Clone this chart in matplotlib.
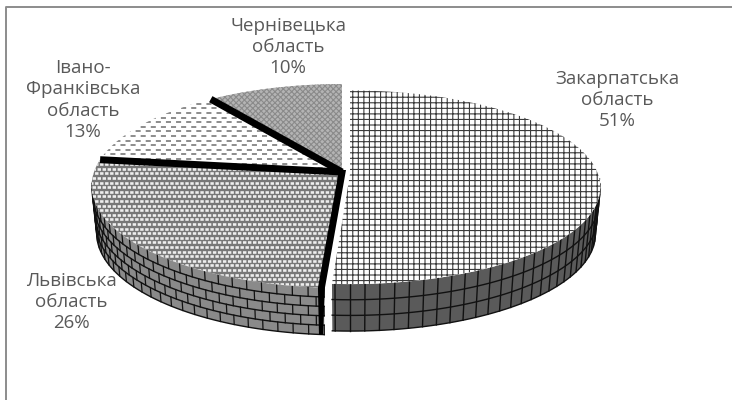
import numpy as np
import matplotlib
matplotlib.use("Agg")
import matplotlib.pyplot as plt
from matplotlib.patches import Polygon

plt.rcParams["font.family"] = ["Open Sans", "DejaVu Sans"]
plt.rcParams["hatch.linewidth"] = 0.8

names = ["Закарпатська\nобласть", "Львівська\nобласть", "Івано-\nФранківська\nобласть", "Чернівецька\nобласть"]
shares = [51, 26, 13, 10]
label_xy = [(617, 100), (71, 302), (83, 100), (288, 47)]

W, H = 732, 400
KEEP = 0.137  # perspective strength
DEPTH = 47
fig = plt.figure(figsize=(W / 100, H / 100), dpi=100)
ax = fig.add_axes([0, 0, 1, 1])
ax.set_xlim(0, W)
ax.set_ylim(H, 0)
ax.axis("off")


def proj(t, apex, rx, ry, dy=0.0):
    # angle t clockwise from 12 o'clock, returns picture coords
    xx = np.sin(t)
    yy = np.cos(t)
    s = 1 / (1 + KEEP * yy)
    return apex[0] + rx * xx * s, apex[1] - ry * yy * s + dy


def wall(t0, t1, apex, rx, ry, rows, step, brick, fc):
    t = np.linspace(t0, t1, 120)
    xt, yt = proj(t, apex, rx, ry)
    xb, yb = proj(t, apex, rx * 0.98, ry, DEPTH)
    pts = np.r_[np.c_[xt, yt], np.c_[xb, yb][::-1]]
    ax.add_patch(Polygon(pts, closed=True, fc=fc, ec="none", zorder=1))
    for i in range(1, rows + 1):
        f = i / rows
        ax.plot(xt + (xb - xt) * f, yt + (yb - yt) * f, color="#111111", lw=1.0, zorder=2)
    n = int((t1 - t0) / step)
    for k in range(n + 1):
        if brick:
            for i in range(rows):
                tk = t0 + (k + 0.5 * (i % 2)) * step
                if t0 <= tk <= t1:
                    x0, y0 = proj(tk, apex, rx - 5 * i / rows, ry, DEPTH * i / rows)
                    x1, y1 = proj(tk, apex, rx - 5 * (i + 1) / rows, ry, DEPTH * (i + 1) / rows)
                    ax.plot([x0, x1], [y0, y1], color="#111111", lw=0.9, zorder=2)
        else:
            tk = t0 + k * step
            x0, y0 = proj(tk, apex, rx, ry)
            x1, y1 = proj(tk, apex, rx * 0.98, ry, DEPTH)
            ax.plot([x0, x1], [y0, y1], color="#111111", lw=1.0, zorder=2)


def top(t0, t1, apex, rx, ry, fc, hatch=None, ec="none"):
    t = np.linspace(t0, t1, 160)
    x, y = proj(t, apex, rx, ry)
    pts = np.r_[[apex], np.c_[x, y]]
    patch = Polygon(pts, closed=True, fc=fc, ec=ec, hatch=hatch, lw=0, zorder=3)
    ax.add_patch(patch)
    return patch


def dash_rows(patch, color, pitch, lw, on, off):
    # staggered rows of short dashes, clipped to the slice
    box = patch.get_path().get_extents()
    ys = np.arange(box.y0, box.y1 + pitch, pitch)
    for i, yy in enumerate(ys):
        offset = (on + off) / 2 * (i % 2)
        line, = ax.plot([box.x0 - 20, box.x1 + 20], [yy, yy], color=color, lw=lw, zorder=4,
                        dash_capstyle="butt")
        line.set_linestyle((offset, (on, off)))
        line.set_clip_path(patch)


edges = 2 * np.pi * np.cumsum([0] + shares) / sum(shares)
right = ((350, 174), 248, 95)
rest = ((342, 172), 248, 100)

# side walls
wall(np.radians(93), edges[1], *right, 3, np.radians(3.0), False, "#5a5a5a")
wall(edges[1], np.radians(265), *rest, 5, np.radians(3.2), True, "#8a8a8a")

# top faces
top(edges[0], edges[1], *right, "white", "+++", "#3a3a3a")
lviv = top(edges[1], edges[2], *rest, "#777777")
dash_rows(lviv, "#eeeeee", 4.6, 1.9, 1.3, 0.6)
ivano = top(edges[2], edges[3], *rest, "white")
dash_rows(ivano, "#8c8c8c", 4.6, 1.4, 2.6, 2.6)
top(edges[3], edges[4], *rest, "#b4b4b4", "xxxxxx", "#8a8a8a")

# black cut faces between slices
for e in edges[2:4]:
    x, y = proj(e, *rest)
    ax.plot([rest[0][0], x], [rest[0][1], y], color="black", lw=5, solid_capstyle="butt", zorder=5)
x, y = proj(edges[1], *rest)
ax.add_patch(Polygon([(346, 170), (339, 170), (x - 6, y), (x - 5, y + DEPTH), (x - 1, y + DEPTH), (x + 1, y)],
                     closed=True, fc="black", ec="none", zorder=5))

for name, share, (lx, ly) in zip(names, shares, label_xy):
    ax.text(lx, ly, f"{name}\n{share}%", ha="center", va="center", fontsize=13.5,
            color="#595959", linespacing=1.22, zorder=6)

# only the left and top frame lines show in the picture
ax.plot([5.5, 5.5, W], [H, 6.5, 6.5], color="#8c8c8c", lw=1.4, zorder=7)

fig.savefig("out.png", dpi=100)
